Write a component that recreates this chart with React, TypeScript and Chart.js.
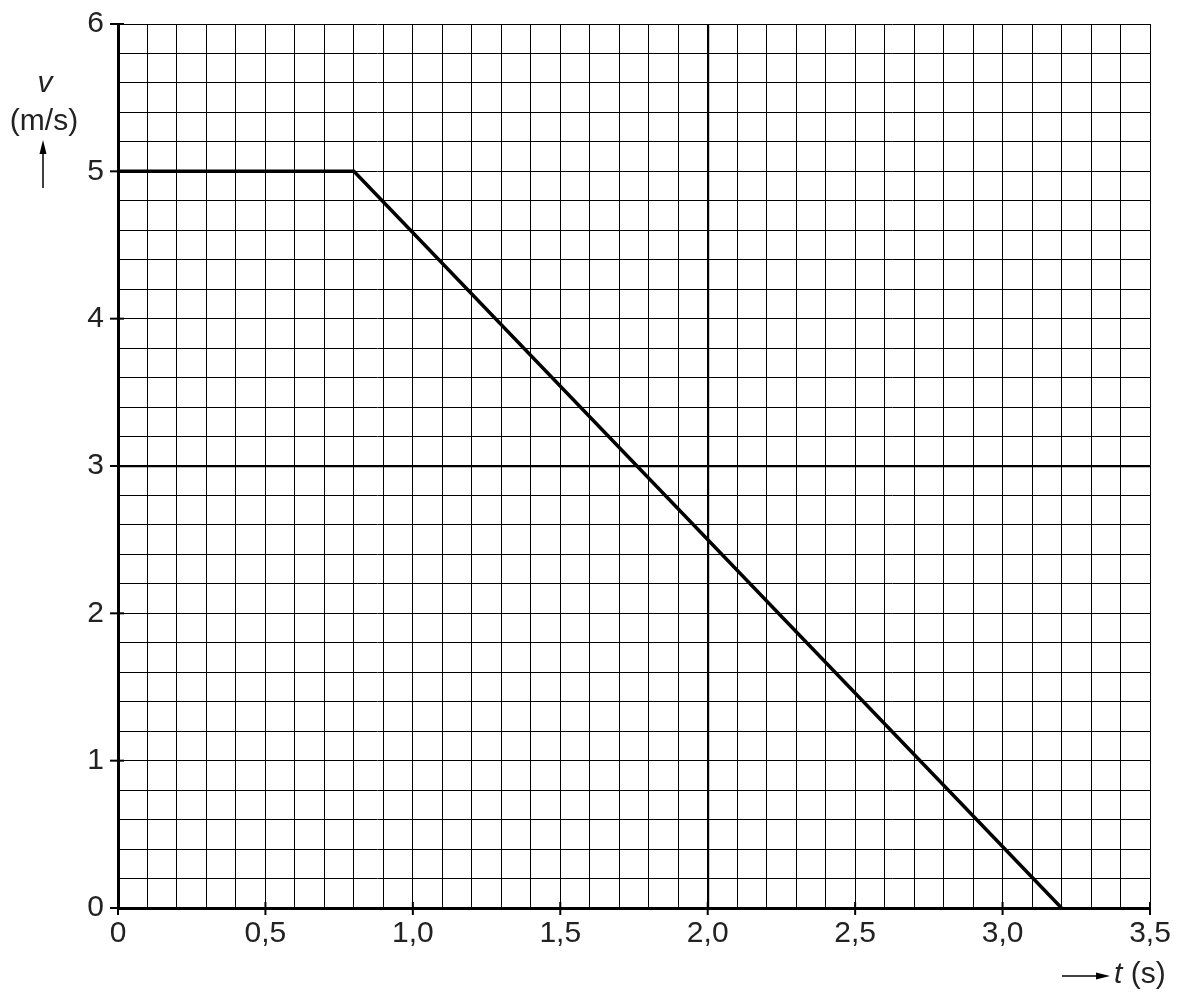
import React, { useEffect, useRef } from "react";
import { Chart, registerables } from "chart.js";

Chart.register(...registerables);

const timeValues = [0, 0.8, 3.2];
const speedValues = [5, 5, 0];
const xMajorTicks = [0, 0.5, 1.0, 1.5, 2.0, 2.5, 3.0, 3.5];
const yMajorTicks = [0, 1, 2, 3, 4, 5, 6];
const yTitle = "v";
const yUnit = "(m/s)";
const xTitle = "t";
const xUnit = " (s)";

const FONT = "'Liberation Sans', Arial, sans-serif";
const FS = 30;

const near = (a: number, b: number) => Math.abs(a - b) < 1e-6;

const decorPlugin = {
  id: "decor",
  afterDraw(chart: any) {
    const ctx = chart.ctx;
    const xs = chart.scales.x;
    const ys = chart.scales.y;
    const area = chart.chartArea;
    ctx.save();
    ctx.strokeStyle = "#000";
    ctx.fillStyle = "#000";
    ctx.lineWidth = 2;
    xMajorTicks.forEach((v) => {
      const px = xs.getPixelForValue(v);
      ctx.beginPath();
      ctx.moveTo(px, area.bottom - 6);
      ctx.lineTo(px, area.bottom + 7);
      ctx.stroke();
    });
    yMajorTicks.forEach((v) => {
      const py = ys.getPixelForValue(v);
      ctx.beginPath();
      ctx.moveTo(area.left - 8, py);
      ctx.lineTo(area.left + 6, py);
      ctx.stroke();
    });
    ctx.fillStyle = "#222";
    ctx.textAlign = "center";
    ctx.textBaseline = "middle";
    ctx.font = `italic ${FS}px ${FONT}`;
    ctx.fillText(yTitle, 45, 84);
    ctx.font = `${FS}px ${FONT}`;
    ctx.fillText(yUnit, 44, 122);
    ctx.lineWidth = 1.5;
    ctx.strokeStyle = "#000";
    ctx.fillStyle = "#000";
    ctx.beginPath();
    ctx.moveTo(43, 188);
    ctx.lineTo(43, 150);
    ctx.stroke();
    ctx.beginPath();
    ctx.moveTo(43, 140);
    ctx.lineTo(39.5, 154);
    ctx.lineTo(46.5, 154);
    ctx.closePath();
    ctx.fill();
    ctx.beginPath();
    ctx.moveTo(1062, 976);
    ctx.lineTo(1100, 976);
    ctx.stroke();
    ctx.beginPath();
    ctx.moveTo(1110, 976);
    ctx.lineTo(1096, 972.5);
    ctx.lineTo(1096, 979.5);
    ctx.closePath();
    ctx.fill();
    ctx.fillStyle = "#222";
    ctx.textAlign = "left";
    ctx.font = `italic ${FS}px ${FONT}`;
    ctx.fillText(xTitle, 1114, 975);
    const w = ctx.measureText(xTitle).width;
    ctx.font = `${FS}px ${FONT}`;
    ctx.fillText(xUnit, 1114 + w, 975);
    ctx.restore();
  },
};

export default function App() {
  const ref = useRef<HTMLCanvasElement | null>(null);
  useEffect(() => {
    if (!ref.current) return;
    const chart = new Chart(ref.current, {
      type: "line",
      data: {
        datasets: [
          {
            data: timeValues.map((t, i) => ({ x: t, y: speedValues[i] })),
            borderColor: "#000",
            borderWidth: 3.5,
            pointRadius: 0,
            fill: false,
            tension: 0,
          },
        ],
      },
      options: {
        animation: false,
        responsive: false,
        maintainAspectRatio: false,
        layout: { padding: { left: 0, top: 24, right: 34, bottom: 0 } },
        plugins: { legend: { display: false }, tooltip: { enabled: false } },
        scales: {
          x: {
            type: "linear",
            min: 0,
            max: 3.5,
            afterFit: (s: any) => {
              s.height = 93;
              s.paddingLeft = 0;
              s.paddingRight = 0;
            },
            border: { display: true, color: "#000", width: 3 },
            grid: {
              color: "#000",
              drawTicks: false,
              lineWidth: (c: any) => (c.tick && near(c.tick.value, 2) ? 2.2 : 1),
            },
            ticks: {
              stepSize: 0.1,
              autoSkip: false,
              maxRotation: 0,
              padding: 8,
              color: "#222",
              font: { family: FONT, size: FS },
              callback: (v: any) => {
                const n = Number(v);
                if (!near(n * 2, Math.round(n * 2))) return "";
                return n === 0 ? "0" : n.toFixed(1).replace(".", ",");
              },
            },
          },
          y: {
            type: "linear",
            min: 0,
            max: 6,
            afterFit: (s: any) => {
              s.width = 118;
              s.paddingTop = 0;
              s.paddingBottom = 0;
            },
            border: { display: true, color: "#000", width: 3 },
            grid: {
              color: "#000",
              drawTicks: false,
              lineWidth: (c: any) => (c.tick && near(c.tick.value, 3) ? 2.2 : 1),
            },
            ticks: {
              stepSize: 0.2,
              autoSkip: false,
              padding: 14,
              color: "#222",
              font: { family: FONT, size: FS },
              callback: (v: any) => {
                const n = Number(v);
                if (!near(n, Math.round(n))) return "";
                return String(Math.round(n));
              },
            },
          },
        },
      },
      plugins: [decorPlugin],
    } as any);
    return () => chart.destroy();
  }, []);
  return (
    <div style={{ position: "absolute", left: 0, top: 0, width: 1184, height: 1001, background: "#fff" }}>
      <canvas ref={ref} width={1184} height={1001} style={{ width: 1184, height: 1001 }} />
    </div>
  );
}
